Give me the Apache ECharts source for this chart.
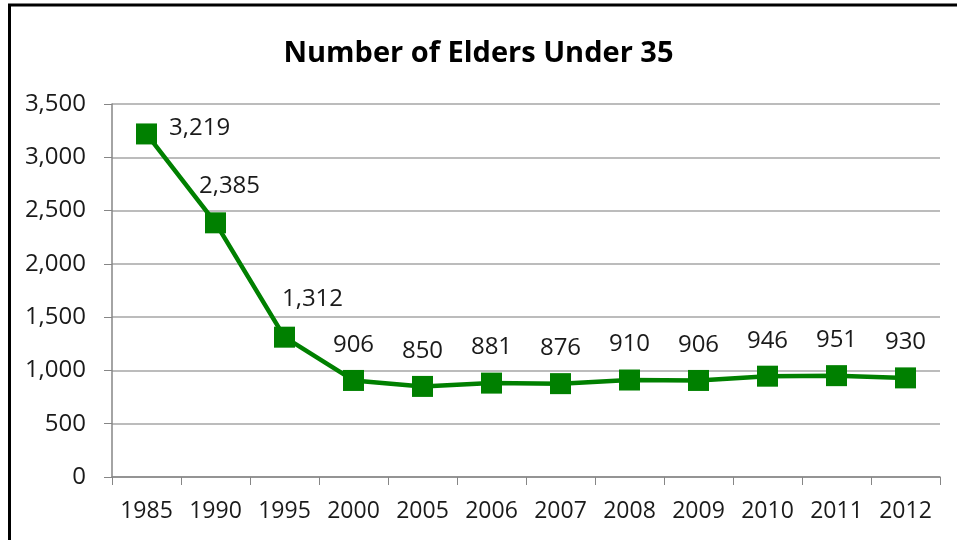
<!DOCTYPE html>
<html>
<head>
<meta charset="utf-8">
<script src="https://cdn.jsdelivr.net/npm/echarts@6/dist/echarts.min.js"></script>
<style>html,body{margin:0;padding:0;background:#fff}#c{width:957px;height:540px}</style>
</head>
<body>
<div id="c"></div>
<script>
const titleText = 'Number of Elders Under 35';
const years = ['1985','1990','1995','2000','2005','2006','2007','2008','2009','2010','2011','2012'];
const elders = [3219, 2385, 1312, 906, 850, 881, 876, 910, 906, 946, 951, 930];
const yTicks = {min: 0, max: 3500, interval: 500};

const fmt = v => Number(v).toLocaleString('en-US');
const FONT = '"Open Sans", "Noto Sans", sans-serif';

// label placement tweaks (style only)
const labelStyle = i => {
  if (i === 0) return {position: 'right', distance: 12, offset: [0, -6]};
  if (i === 1) return {position: 'top', distance: 14, offset: [14, 0]};
  if (i === 2) return {position: 'top', distance: 16, offset: [28, 0]};
  return {position: 'top', distance: 13};
};

const chart = echarts.init(document.getElementById('c'), null, {renderer: 'canvas'});
chart.setOption({
  backgroundColor: '#fff',
  animation: false,
  title: {
    text: titleText, left: 'center', top: 34,
    textStyle: {fontFamily: FONT, fontWeight: 'bold', fontSize: 29, color: '#000'}
  },
  graphic: [{
    type: 'rect', shape: {x: 9.5, y: 5, width: 1000, height: 600},
    style: {fill: 'none', stroke: '#000', lineWidth: 3}, silent: true
  }],
  grid: {left: 112, right: 17, top: 104, bottom: 63},
  xAxis: {
    type: 'category', data: years, boundaryGap: true,
    axisLine: {lineStyle: {color: '#868686', width: 1.5}},
    axisTick: {show: true, length: 8, alignWithLabel: false, lineStyle: {color: '#868686'}},
    axisLabel: {fontFamily: FONT, fontSize: 23, color: '#1a1a1a', margin: 23, interval: 0}
  },
  yAxis: {
    type: 'value', min: yTicks.min, max: yTicks.max, interval: yTicks.interval,
    axisLine: {show: true, lineStyle: {color: '#868686', width: 1.5}},
    axisTick: {show: true, length: 8, lineStyle: {color: '#868686'}},
    splitLine: {lineStyle: {color: '#a6a6a6', width: 1.5}},
    axisLabel: {fontFamily: FONT, fontSize: 24, color: '#1a1a1a', margin: 26, formatter: fmt}
  },
  series: [{
    type: 'line',
    data: elders.map((v, i) => ({value: v, label: labelStyle(i)})),
    symbol: 'rect', symbolSize: 21,
    lineStyle: {color: '#008000', width: 4.5},
    itemStyle: {color: '#008000'},
    label: {show: true, fontFamily: FONT, fontSize: 24, color: '#1a1a1a', formatter: p => fmt(p.value)}
  }]
});
</script>
</body>
</html>
